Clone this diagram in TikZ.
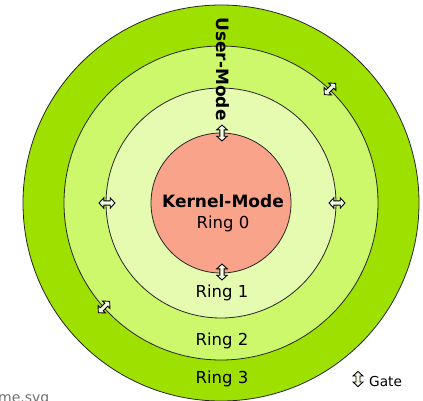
\documentclass[tikz,border=0pt]{standalone}
\usepackage{fontspec}
\setmainfont{DejaVu Sans}
\definecolor{ringthree}{HTML}{9EE000}
\definecolor{ringtwo}{HTML}{CDF86C}
\definecolor{ringone}{HTML}{E5FCB0}
\definecolor{kernelc}{HTML}{F9A38A}
\definecolor{gatefill}{HTML}{F4FBE4}
\definecolor{captiongray}{HTML}{707070}
\tikzset{
  ring/.style={draw=black!85, line width=0.8pt},
  ringlabel/.style={font=\fontsize{16.5}{18}\selectfont, inner sep=0pt},
  modelabel/.style={font=\bfseries\fontsize{17}{19}\selectfont, inner sep=0pt},
  gate/.pic={
    \filldraw[fill=gatefill, draw=black, line width=0.9pt, line join=miter]
      (0,8) -- (5.2,3.2) -- (2.1,3.2) -- (2.1,-3.2) -- (5.2,-3.2) -- (0,-8)
      -- (-5.2,-3.2) -- (-2.1,-3.2) -- (-2.1,3.2) -- (-5.2,3.2) -- cycle;
  }
}
\begin{document}
\begin{tikzpicture}[x=1pt, y=-1pt]
  \useasboundingbox (0,0) rectangle (423,400);
  \begin{scope}
    \clip (0,0) rectangle (423,400);
    % concentric privilege rings, outermost first
    \coordinate (c) at (221,203);
    \filldraw[ring, fill=ringthree] (c) circle (198);
    \filldraw[ring, fill=ringtwo] (c) circle (157);
    \filldraw[ring, fill=ringone] (c) circle (115);
    \filldraw[ring, fill=kernelc] (c) circle (70);

    % gates between the rings (radial orientation)
    \pic[rotate=0] at (222,133) {gate};
    \pic[rotate=0] at (222,272) {gate};
    \pic[rotate=90] at (107,203) {gate};
    \pic[rotate=90] at (337,203) {gate};
    \pic[rotate=-45] at (330,89) {gate};
    \pic[rotate=-45] at (104,307) {gate};

    % labels
    \node[modelabel, rotate=-90] (user) at (223,69) {User-Mode};
    \node[modelabel] (kernel) at (223,201) {Kernel-Mode};
    \node[ringlabel] (r0) at (223,224) {Ring 0};
    \node[ringlabel] (r1) at (222,293) {Ring 1};
    \node[ringlabel] (r2) at (222,341) {Ring 2};
    \node[ringlabel] (r3) at (222,379) {Ring 3};

    % legend
    \pic[scale=0.95] at (358,379) {gate};
    \node[font=\fontsize{13.7}{15}\selectfont, inner sep=0pt, anchor=west] (gatelbl) at (369,382) {Gate};

    % caption fragment
    \node[font=\fontsize{14}{16}\selectfont, text=captiongray, inner sep=0pt, anchor=base west] (caption) at (-2,402) {me.svg};
  \end{scope}
\end{tikzpicture}
\end{document}
